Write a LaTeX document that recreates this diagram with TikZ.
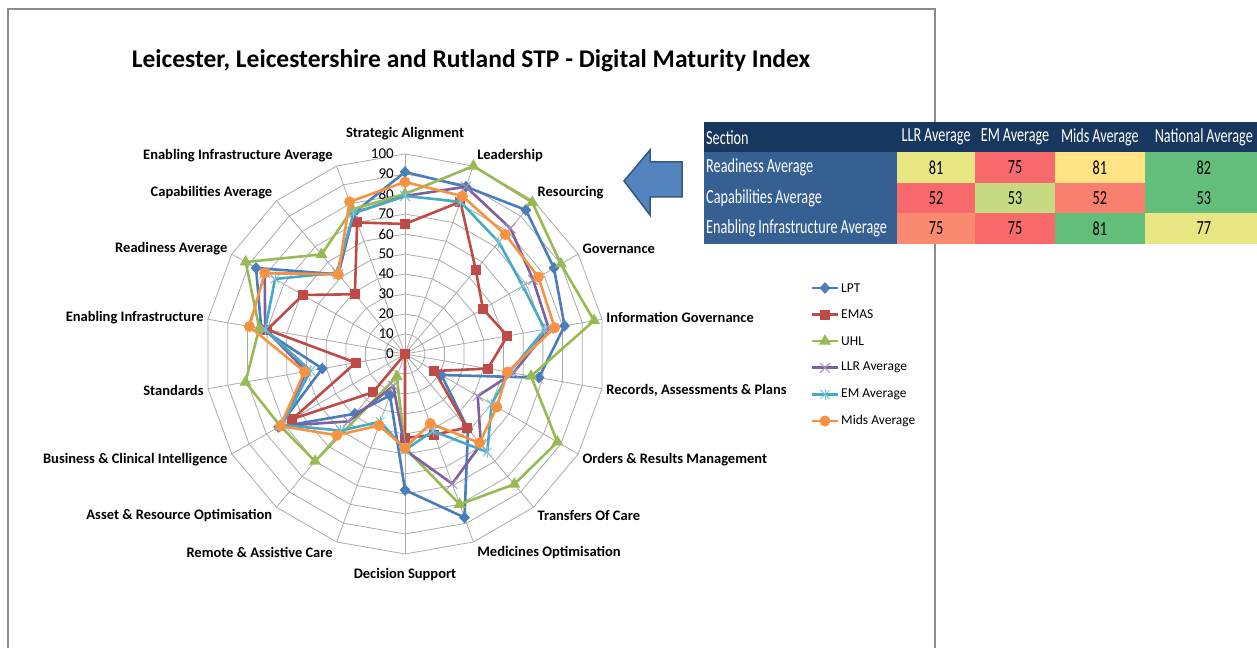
\documentclass[tikz,border=0pt]{standalone}
\usepackage{fontspec}
\setmainfont{Carlito}
\newfontfamily\tablefont[FakeStretch=0.71, WordSpace=0.9]{Carlito}
\usetikzlibrary{positioning,shapes.geometric,shapes.misc}

\definecolor{lptblue}{HTML}{4A7EBB}
\definecolor{emasred}{HTML}{BE4B48}
\definecolor{uhlgreen}{HTML}{98B954}
\definecolor{llrpurple}{HTML}{7D60A0}
\definecolor{emteal}{HTML}{46AAC5}
\definecolor{midsorange}{HTML}{F69240}
\definecolor{gridgray}{HTML}{ABABAB}
\definecolor{framegray}{HTML}{8C8C8C}
\definecolor{hdrnavy}{HTML}{17375E}
\definecolor{secblue}{HTML}{366092}
\definecolor{cellred}{HTML}{F8696B}
\definecolor{cellsalmon}{HTML}{F98A71}
\definecolor{cellcoral}{HTML}{F97F6E}
\definecolor{cellyellow}{HTML}{FFE384}
\definecolor{cellolive}{HTML}{E8E583}
\definecolor{celllime}{HTML}{C5DA81}
\definecolor{cellgreen}{HTML}{63BE7B}

\tikzset{
  ring/.style={gridgray, line width=0.8pt},
  axislabel/.style={font=\bfseries\fontsize{14.5}{16}\selectfont},
  ticklabel/.style={font=\fontsize{15}{16}\selectfont, anchor=east, inner sep=1pt},
  legendtext/.style={font=\fontsize{13.5}{15}\selectfont, anchor=west, inner sep=1pt},
  series/.style={line width=2.6pt, line join=round},
  lptsym/.style={diamond, fill=lptblue, inner sep=0, minimum width=11, minimum height=12},
  emassym/.style={rectangle, fill=emasred, inner sep=0, minimum size=10},
  uhlsym/.style={regular polygon, regular polygon sides=3, fill=uhlgreen, inner sep=0, minimum size=14},
  llrsym/.style={cross out, draw=llrpurple!70, line width=1pt, inner sep=0, minimum size=9},
  emsym/.style={cross out, draw=emteal!70, line width=0.9pt, inner sep=0, minimum size=8,
    append after command={([yshift=1]\tikzlastnode.north) edge[emteal!70, line width=0.9pt] ([yshift=-1]\tikzlastnode.south)}},
  midssym/.style={circle, fill=midsorange, inner sep=0, minimum size=11},
  cell/.style={inner sep=0, minimum height=30, font=\tablefont\fontsize{20}{22}\selectfont},
  hdrcell/.style={cell, fill=hdrnavy, draw=hdrnavy, line width=0.4pt, text=white},
  seccell/.style={cell, fill=secblue, draw=secblue, line width=0.4pt, text=white, inner xsep=2},
  numcell/.style={cell, fill=#1, draw=#1, line width=0.4pt, text=black},
  arrowshape/.style={fill=lptblue!95!white, draw=lptblue!70!black, line width=1.5pt, line join=miter}
}

% one series: coordinates, closed line, markers
\newcommand{\radarseries}[3]{%
  \foreach \v [count=\k] in {#3}
    \coordinate (#1\k) at ({90-20*(\k-1)}:{2*\v});
  \draw[series, #2] (#11) \foreach \k in {2,...,18}{ -- (#1\k)} -- cycle;
  \foreach \k in {1,...,18}
    \node[#1sym] (#1mark\k) at (#1\k) {};
}
\newcommand{\secentry}[1]{\hbox to 189pt{#1\hfil}}

\begin{document}
\begin{tikzpicture}[x=1pt, y=1pt]
\useasboundingbox (0,0) rectangle (1257,648);
\draw[framegray, line width=1.2pt] (8,0) -- (8,639) -- (935,639) -- (935,0);

\node[font=\bfseries\fontsize{25.5}{28}\selectfont] (title) at (471,587) {Leicester, Leicestershire and Rutland STP - Digital Maturity Index};

\begin{scope}[shift={(405,294)}]
  % web
  \foreach \r in {1,...,10}
    \draw[ring] (90:{20*\r}) \foreach \a in {1,...,17}{ -- ({90-20*\a}:{20*\r})} -- cycle;
  \foreach \a in {0,...,17}
    \draw[ring] (0,0) -- ({90-20*\a}:200);
  \foreach \v in {0,10,...,100}
    \node[ticklabel] (tick\v) at (-10,{2*\v}) {\v};
  \foreach \txt/\anc [count=\k from 0] in {Strategic Alignment/south, Leadership/west,
      Resourcing/west, Governance/west, Information Governance/west,
      {Records, Assessments \& Plans}/west, Orders \& Results Management/west,
      Transfers Of Care/west, Medicines Optimisation/west, Decision Support/north,
      Remote \& Assistive Care/east, Asset \& Resource Optimisation/east,
      Business \& Clinical Intelligence/east, Standards/east, Enabling Infrastructure/east,
      Readiness Average/east, Capabilities Average/east, Enabling Infrastructure Average/east}
    \node[axislabel, anchor=\anc] (axis\k) at ({201*cos(90-20*\k)},{211*sin(90-20*\k)}) {\txt};

  % data
  \radarseries{lpt}{lptblue}{91,89,94,86,81,68,21,49,87,68,22,39,73,42,73,86,52,75}
  \radarseries{emas}{emasred}{65,81,55,45,52,42,17,48,43,42,0,25,65,25,70,59,39,70}
  \radarseries{uhl}{uhlgreen}{80,100,99,90,96,64,88,85,80,47,12,70,72,81,74,92,65,77}
  \radarseries{llr}{llrpurple}{79,89,82,74,73,55,42,59,69,48,17,44,72,50,71,81,52,75}
  \radarseries{em}{emteal}{79,81,73,68,71,53,50,64,41,48,36,50,71,48,71,75,53,75}
  \radarseries{mids}{midsorange}{86,84,78,77,76,52,53,58,37,47,38,53,72,51,79,81,52,81}
\end{scope}

% legend
\foreach \nm/\col/\lab [count=\i from 0] in {lpt/lptblue/LPT, emas/emasred/EMAS,
    uhl/uhlgreen/UHL, llr/llrpurple/LLR Average, em/emteal/EM Average, mids/midsorange/Mids Average}
{
  \coordinate (leg\nm) at (825,{360-26.6*\i});
  \draw[series, \col] ([xshift=-13]leg\nm) -- ([xshift=13]leg\nm);
  \node[\nm sym] (leg\nm mark) at (leg\nm) {};
  \node[legendtext] (leg\nm text) at ([xshift=15]leg\nm) {\lab};
}

% arrow to the table
\draw[arrowshape] (624,467) -- (650,498) -- (650,486) -- (682,486) -- (682,451) -- (650,451) -- (650,433) -- cycle;

% table
\node[seccell, fill=hdrnavy, draw=hdrnavy, anchor=north west] (hsec) at (704,526) {\secentry{Section}};
\node[hdrcell, minimum width=77, right=0pt of hsec] (hllr) {LLR Average};
\node[hdrcell, minimum width=80, right=0pt of hllr] (hem) {EM Average};
\node[hdrcell, minimum width=89, right=0pt of hem] (hmids) {Mids Average};
\node[hdrcell, minimum width=118, right=0pt of hmids] (hnat) {National Average};

\node[seccell, below=0pt of hsec] (rsec) {\secentry{Readiness Average}};
\node[numcell=cellolive, minimum width=77, right=0pt of rsec] (rllr) {81};
\node[numcell=cellred, minimum width=80, right=0pt of rllr] (rem) {75};
\node[numcell=cellyellow, minimum width=89, right=0pt of rem] (rmids) {81};
\node[numcell=cellgreen, minimum width=118, right=0pt of rmids] (rnat) {82};

\node[seccell, below=0pt of rsec] (csec) {\secentry{Capabilities Average}};
\node[numcell=cellred, minimum width=77, right=0pt of csec] (cllr) {52};
\node[numcell=celllime, minimum width=80, right=0pt of cllr] (cem) {53};
\node[numcell=cellcoral, minimum width=89, right=0pt of cem] (cmids) {52};
\node[numcell=cellgreen, minimum width=118, right=0pt of cmids] (cnat) {53};

\node[seccell, below=0pt of csec] (esec) {\secentry{Enabling Infrastructure Average}};
\node[numcell=cellsalmon, minimum width=77, right=0pt of esec] (ellr) {75};
\node[numcell=cellred, minimum width=80, right=0pt of ellr] (eem) {75};
\node[numcell=cellgreen, minimum width=89, right=0pt of eem] (emids) {81};
\node[numcell=cellolive, minimum width=118, right=0pt of emids] (enat) {77};
\end{tikzpicture}
\end{document}
